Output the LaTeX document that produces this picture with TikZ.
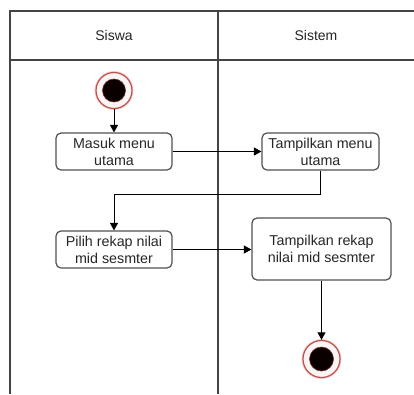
\documentclass[tikz,border=0pt]{standalone}
\usepackage{fontspec}
\setmainfont{Liberation Sans}
\usetikzlibrary{arrows.meta}
\definecolor{frame}{HTML}{444444}
\definecolor{boxline}{HTML}{505050}
\definecolor{txt}{HTML}{262626}
\definecolor{ring}{HTML}{C0504D}
\definecolor{dot}{HTML}{0A0000}
\tikzset{
  lane/.style={draw=frame, line width=1.4pt},
  action/.style={draw=boxline, line width=1.2pt, rounded corners=5pt, fill=white,
    align=center, text=txt, inner sep=0pt,
    font=\fontsize{14.3}{17}\selectfont},
  header/.style={text=txt, font=\fontsize{14}{17}\selectfont},
  flow/.style={draw=black, line width=1pt, -{Triangle[length=7.5pt,width=8pt]}},
  link/.style={draw=black, line width=1pt},
}
\newcommand{\umlstate}[3]{%
  \fill[ring!25] (#1) circle (#2+1.5);
  \draw[ring, line width=1.2pt, fill=ring!6] (#1) circle (#2);
  \fill[dot, draw=ring!60!black, line width=0.6pt] (#1) circle (#3);
}
\begin{document}
\begin{tikzpicture}[x=1pt, y=-1pt]
  \useasboundingbox[fill=white] (0,0) rectangle (414,394);

  % swimlane frame
  \draw[lane] (414,11) -- (10,11) -- (10,394);
  \draw[lane] (10,60) -- (414,60);
  \draw[lane] (218,11) -- (218,394);
  \node[header] (hsiswa) at (114,35) {Siswa};
  \node[header] (hsistem) at (316,35) {Sistem};

  % start and end states
  \coordinate (start) at (114,90.5);
  \coordinate (stop) at (321.5,359);
  \umlstate{start}{18}{11.5}
  \umlstate{stop}{18.5}{12}
  \node[circle, minimum size=37pt, inner sep=0pt] (startnode) at (start) {};
  \node[circle, minimum size=38pt, inner sep=0pt] (stopnode) at (stop) {};

  % actions
  \node[action, minimum width=116pt, minimum height=37pt] (masuk) at (114,151.5)
    {Masuk menu\\utama};
  \node[action, minimum width=117pt, minimum height=37pt] (tampil) at (320.5,151.5)
    {Tampilkan menu\\utama};
  \node[action, minimum width=116pt, minimum height=37pt] (pilih) at (114,249.5)
    {Pilih rekap nilai\\mid sesmter};
  \node[action, minimum width=139pt, minimum height=62pt] (rekap) at (321.5,249)
    {Tampilkan rekap\\nilai mid sesmter};

  % control flow
  \draw[flow] (startnode.south) -- (masuk.north);
  \draw[flow] (masuk.east) -- (tampil.west);
  \coordinate (bend1) at (320.5,194);
  \coordinate (bend2) at (114,194);
  \draw[link] (tampil.south) -- (bend1) -- (bend2);
  \draw[flow] (bend2) -- (pilih.north);
  \draw[flow] (pilih.east) -- (rekap.west |- pilih.east);
  \draw[flow] (rekap.south -| stop) -- (stopnode.north);
\end{tikzpicture}
\end{document}
